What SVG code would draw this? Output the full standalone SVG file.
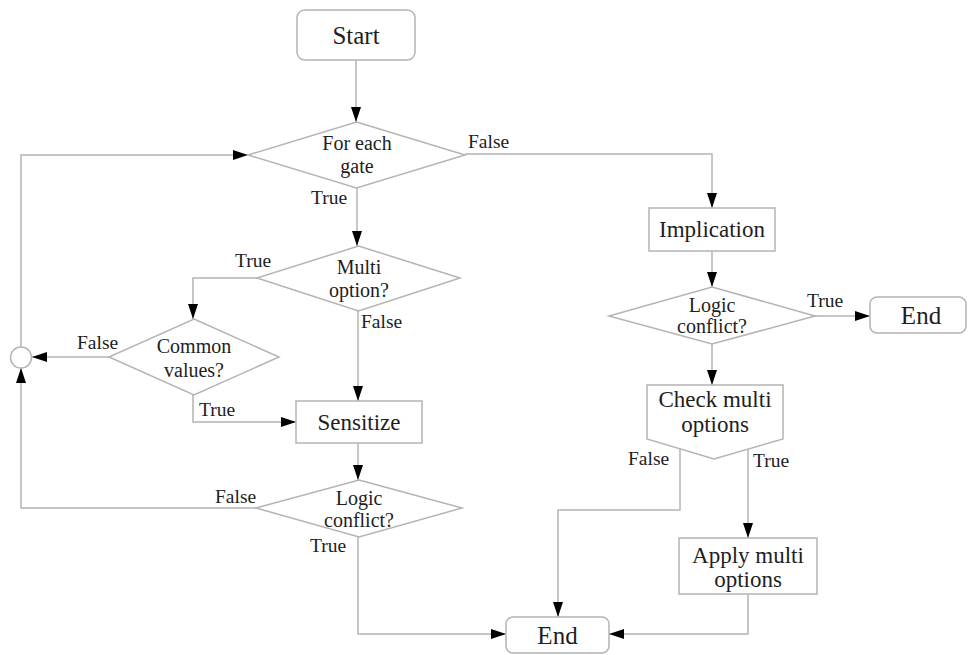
<svg xmlns="http://www.w3.org/2000/svg" width="968" height="655" viewBox="0 0 968 655">
  <style>
    .shape { fill: #ffffff; stroke: #b4b4b4; stroke-width: 1.5; }
    .link { fill: none; stroke: #b4b4b4; stroke-width: 1.5; }
    text { font-family: "Liberation Serif", "Times New Roman", serif; fill: #1e1e1e; }
    .term { font-size: 25px; text-anchor: middle; }
    .box { font-size: 23px; text-anchor: middle; }
    .dec { font-size: 20px; text-anchor: middle; }
    .lbl { font-size: 19.5px; }
  </style>
  <defs>
    <marker id="arrow" markerUnits="userSpaceOnUse" markerWidth="16" markerHeight="11" refX="15" refY="5" orient="auto">
      <path d="M0,0 L15,5 L0,10 z" fill="#000"/>
    </marker>
  </defs>

  <rect width="968" height="655" fill="#ffffff"/>

  <!-- connectors -->
  <g id="connectors" class="link" marker-end="url(#arrow)">
    <path d="M356,60 V122"/>
    <path d="M465,154 H712 V208"/>
    <path d="M357,188 V246"/>
    <path d="M257,278 H193 V319"/>
    <path d="M358,311 V401"/>
    <path d="M109,357 H32"/>
    <path d="M193,395 V422 H296"/>
    <path d="M358,443 V480"/>
    <path d="M256,508 H21 V368"/>
    <path d="M21,347 V155 H248"/>
    <path d="M358,537 V634 H506"/>
    <path d="M712,251 V287"/>
    <path d="M815,316 H870"/>
    <path d="M712,344 V385"/>
    <path d="M680,449 V510 H558 V617"/>
    <path d="M748,449 V538"/>
    <path d="M748,594 V634 H609"/>
  </g>

  <!-- nodes -->
  <g id="start">
    <rect class="shape" x="297" y="10" width="118" height="50" rx="8"/>
    <text class="term" x="356" y="44">Start</text>
  </g>

  <g id="for-each-gate">
    <polygon class="shape" points="356.5,122 465,155 356.5,188 248,155"/>
    <text class="dec" x="357" y="150">For each</text>
    <text class="dec" x="357" y="173">gate</text>
  </g>

  <g id="multi-option">
    <polygon class="shape" points="358.5,246 460,278 358.5,311 257,278"/>
    <text class="dec" x="359" y="274">Multi</text>
    <text class="dec" x="359" y="297">option?</text>
  </g>

  <g id="common-values">
    <polygon class="shape" points="194,319 279,357 194,395 109,357"/>
    <text class="dec" x="194" y="353">Common</text>
    <text class="dec" x="194" y="377">values?</text>
  </g>

  <g id="merge">
    <circle class="shape" cx="21" cy="357.5" r="10.5"/>
  </g>

  <g id="sensitize">
    <rect class="shape" x="296" y="401" width="126" height="42"/>
    <text class="box" x="359" y="430">Sensitize</text>
  </g>

  <g id="logic-conflict-left">
    <polygon class="shape" points="359,480 462,508 359,537 256,508"/>
    <text class="dec" x="359" y="505">Logic</text>
    <text class="dec" x="359" y="527">conflict?</text>
  </g>

  <g id="end-bottom">
    <rect class="shape" x="506" y="617" width="103" height="36" rx="7"/>
    <text class="term" x="557.5" y="644">End</text>
  </g>

  <g id="implication">
    <rect class="shape" x="649" y="208" width="126" height="43"/>
    <text class="box" x="712" y="237">Implication</text>
  </g>

  <g id="logic-conflict-right">
    <polygon class="shape" points="712,287 815,316 712,344 609,316"/>
    <text class="dec" x="712" y="312">Logic</text>
    <text class="dec" x="712" y="333">conflict?</text>
  </g>

  <g id="end-right">
    <rect class="shape" x="870" y="297" width="96" height="36" rx="7"/>
    <text class="term" x="921" y="324">End</text>
  </g>

  <g id="check-multi-options">
    <path class="shape" d="M647,385 H783 V439 L714,459 L647,439 Z"/>
    <text class="box" x="715" y="407">Check multi</text>
    <text class="box" x="715" y="432">options</text>
  </g>

  <g id="apply-multi-options">
    <rect class="shape" x="679" y="538" width="138" height="56"/>
    <text class="box" x="748" y="563">Apply multi</text>
    <text class="box" x="748" y="587">options</text>
  </g>

  <!-- branch labels -->
  <g id="labels">
    <text class="lbl" x="468" y="148">False</text>
    <text class="lbl" x="311" y="204">True</text>
    <text class="lbl" x="235" y="267">True</text>
    <text class="lbl" x="361" y="328">False</text>
    <text class="lbl" x="77" y="349">False</text>
    <text class="lbl" x="199" y="416">True</text>
    <text class="lbl" x="215" y="503">False</text>
    <text class="lbl" x="310" y="552">True</text>
    <text class="lbl" x="807" y="307">True</text>
    <text class="lbl" x="628" y="465">False</text>
    <text class="lbl" x="753" y="467">True</text>
  </g>
</svg>
